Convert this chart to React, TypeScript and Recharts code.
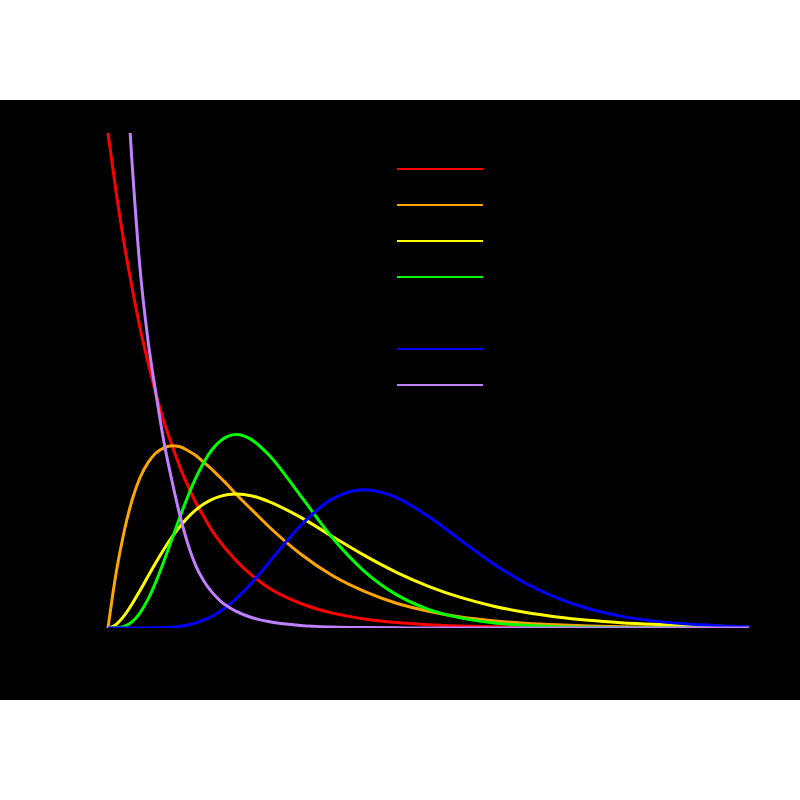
import { Legend, Line, LineChart, XAxis, YAxis } from "recharts";

const xs = [0, 0.25, 0.5, 0.75, 1, 1.25, 1.5, 1.75, 2, 2.25, 2.5, 2.75, 3, 3.25, 3.5, 3.75, 4, 4.5, 5, 6, 7, 8, 9, 10, 11, 12, 13, 14, 15, 16, 17, 18, 19, 20];

const red = [0.5, 0.441, 0.389, 0.344, 0.303, 0.268, 0.236, 0.208, 0.184, 0.162, 0.143, 0.126, 0.112, 0.098, 0.087, 0.077, 0.068, 0.053, 0.041, 0.025, 0.015, 0.0092, 0.0056, 0.0034, 0.002, 0.0012, 0.00075, 0.00045, 0.00028, 0.00017, 0.0001, 0.00006, 0.00004, 0.00002];
const orange = [0, 0.055, 0.097, 0.129, 0.152, 0.167, 0.177, 0.182, 0.184, 0.183, 0.179, 0.174, 0.167, 0.16, 0.152, 0.144, 0.135, 0.119, 0.103, 0.075, 0.053, 0.037, 0.025, 0.017, 0.0112, 0.0074, 0.0049, 0.0032, 0.0021, 0.0013, 0.00086, 0.00056, 0.00036, 0.00023];
const yellow = [0, 0.0034, 0.0122, 0.0242, 0.0379, 0.0523, 0.0664, 0.0798, 0.092, 0.1027, 0.112, 0.1195, 0.1255, 0.13, 0.133, 0.1348, 0.1353, 0.1334, 0.128, 0.112, 0.0925, 0.0733, 0.0562, 0.0421, 0.0309, 0.0223, 0.0159, 0.0112, 0.0078, 0.0054, 0.0037, 0.0025, 0.0017, 0.0011];
const green = [0, 0.00013, 0.0016, 0.0062, 0.0153, 0.0291, 0.0471, 0.0679, 0.0902, 0.1126, 0.1336, 0.1523, 0.168, 0.1803, 0.1888, 0.1938, 0.1954, 0.1898, 0.1755, 0.1339, 0.0912, 0.0573, 0.0337, 0.0189, 0.0102, 0.0053, 0.0027, 0.0013, 0.00065, 0.0003, 0.00014, 0.00007, 0.00003, 0.00002];
const blue = [0, 0, 0, 0, 0.00001, 0.00004, 0.00014, 0.00038, 0.00086, 0.0017, 0.0031, 0.0052, 0.0081, 0.0119, 0.0169, 0.0228, 0.0298, 0.0463, 0.0653, 0.1033, 0.1304, 0.1396, 0.1318, 0.1126, 0.0888, 0.0655, 0.0457, 0.0304, 0.0194, 0.012, 0.0072, 0.0042, 0.0024, 0.0013];
const purple = [null, null, 0.6, 0.47, 0.363, 0.29, 0.236, 0.187, 0.148, 0.113, 0.084, 0.062, 0.047, 0.036, 0.0275, 0.0215, 0.0168, 0.0104, 0.0065, 0.0026, 0.001, 0.0004, 0.00015, 0.00006, 0, 0, 0, 0, 0, 0, 0, 0, 0, 0];

const series = [
  { key: "red", color: "#ff0000", values: red },
  { key: "orange", color: "#ffa500", values: orange },
  { key: "yellow", color: "#ffff00", values: yellow },
  { key: "green", color: "#00ff00", values: green },
  { key: "blue", color: "#0000ff", values: blue },
  { key: "purple", color: "#c080ff", values: purple },
];

// legend rows, the fifth one is black on black
const legendColors = ["#ff0000", "#ffa500", "#ffff00", "#00ff00", "#000000", "#0000ff", "#c080ff"];

const data = xs.map((x, i) => {
  const row: Record<string, number | null> = { x };
  series.forEach((s) => {
    row[s.key] = s.values[i];
  });
  return row;
});

function LegendLines() {
  return (
    <svg width={120} height={260}>
      {legendColors.map((c, i) => (
        <line key={i} x1={7} x2={93} y1={14 + i * 36} y2={14 + i * 36} stroke={c} strokeWidth={2} />
      ))}
    </svg>
  );
}

export default function App() {
  return (
    <div style={{ position: "absolute", left: 0, top: 0, width: 800, height: 800, background: "#fff" }}>
      <div style={{ position: "absolute", left: 0, top: 100, width: 800, height: 600, background: "#000" }}>
        <LineChart width={800} height={600} data={data} margin={{ top: 33, right: 51, bottom: 72, left: 108 }}>
          <XAxis dataKey="x" type="number" domain={[0, 20]} hide />
          <YAxis type="number" domain={[0, 0.5]} allowDataOverflow hide />
          <Legend
            layout="horizontal"
            verticalAlign="middle"
            align="center"
            content={() => <LegendLines />}
            wrapperStyle={{ position: "absolute", top: 55, left: 390, width: 120, height: 260 }}
          />
          {series.map((s) => (
            <Line
              key={s.key}
              dataKey={s.key}
              type="monotone"
              stroke={s.color}
              strokeWidth={3}
              dot={false}
              activeDot={false}
              connectNulls={false}
              isAnimationActive={false}
            />
          ))}
        </LineChart>
      </div>
    </div>
  );
}
